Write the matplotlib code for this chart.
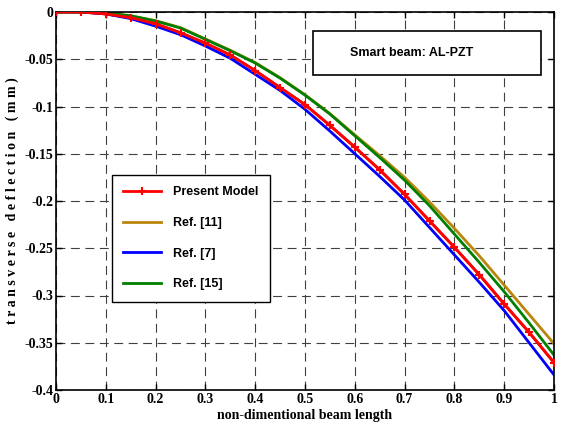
import matplotlib
matplotlib.use("Agg")
import matplotlib.pyplot as plt
from matplotlib.patches import Rectangle

x = [0, 0.05, 0.1, 0.15, 0.2, 0.25, 0.3, 0.35, 0.4, 0.45, 0.5,
     0.55, 0.6, 0.65, 0.7, 0.75, 0.8, 0.85, 0.9, 0.95, 1.0]
present = [0, 0, -0.002, -0.006, -0.0125, -0.022, -0.033, -0.0455, -0.062, -0.080, -0.098,
           -0.120, -0.143, -0.167, -0.193, -0.221, -0.249, -0.278, -0.309, -0.339, -0.371]
ref11 = [0, 0, -0.001, -0.004, -0.0092, -0.0165, -0.0285, -0.0405, -0.0535, -0.0695, -0.0875,
         -0.1075, -0.130, -0.152, -0.175, -0.201, -0.229, -0.258, -0.289, -0.320, -0.351]
ref7 = [0, 0, -0.002, -0.007, -0.015, -0.024, -0.036, -0.049, -0.066, -0.083, -0.103,
        -0.126, -0.150, -0.174, -0.199, -0.228, -0.257, -0.286, -0.316, -0.350, -0.384]
ref15 = [0, 0, -0.001, -0.004, -0.0095, -0.017, -0.029, -0.041, -0.054, -0.070, -0.088,
         -0.108, -0.131, -0.154, -0.178, -0.205, -0.235, -0.265, -0.296, -0.329, -0.363]

xticks = [0, 0.1, 0.2, 0.3, 0.4, 0.5, 0.6, 0.7, 0.8, 0.9, 1]
xticklabels = ["0", "0.1", "0.2", "0.3", "0.4", "0.5", "0.6", "0.7", "0.8", "0.9", "1"]
yticks = [0, -0.05, -0.1, -0.15, -0.2, -0.25, -0.3, -0.35, -0.4]
yticklabels = ["0", "-0.05", "-0.1", "-0.15", "-0.2", "-0.25", "-0.3", "-0.35", "-0.4"]

fig = plt.figure(figsize=(5.62, 4.37), dpi=100)
ax = fig.add_axes([56/562, 1-390/437, (554-56)/562, (390-12)/437])

ax.plot(x, present, color="#ff0000", lw=2.0, marker="+", ms=6, mew=1.5, label="Present Model")
ax.plot(x, ref11, color="#b8860b", lw=2.0, label="Ref. [11]")
ax.plot(x, ref7, color="#0000ff", lw=2.0, label="Ref. [7]")
ax.plot(x, ref15, color="#008000", lw=2.0, label="Ref. [15]")
# redraw present on top
ax.plot(x, present, color="#ff0000", lw=2.0, marker="+", ms=6, mew=1.5, zorder=3)

ax.set_xlim(0, 1)
ax.set_ylim(-0.4, 0)
ax.set_xticks(xticks)
ax.set_xticklabels(xticklabels)
ax.set_yticks(yticks)
ax.set_yticklabels(yticklabels)
ax.grid(True, color="0.25", linestyle=(0, (8, 5)), linewidth=0.8)
ax.tick_params(direction="in", top=True, right=True, length=4, width=1, pad=2)
for lab in ax.get_xticklabels() + ax.get_yticklabels():
    lab.set_family("Liberation Serif")
    lab.set_fontweight("bold")
    lab.set_fontsize(10)
for s in ax.spines.values():
    s.set_linewidth(1.2)

ax.set_xlabel("non-dimentional beam length", family="Liberation Serif",
              fontweight="bold", fontsize=10, labelpad=2)
ax.set_ylabel("t r a n s v e r s e   d e f l e c t i o n   ( m m )", family="Liberation Serif",
              fontweight="bold", fontsize=10, labelpad=4)

leg = ax.legend(loc="upper left", bbox_to_anchor=(0.112, 0.569), borderaxespad=0,
                fancybox=False, edgecolor="black", framealpha=1,
                prop={"family": "Liberation Sans", "weight": "bold", "size": 9},
                handlelength=3.0, labelspacing=1.5, borderpad=0.9, handletextpad=1.0)
leg.get_frame().set_linewidth(1.0)

ax.add_patch(Rectangle((0.516, 0.833), 0.458, 0.117, transform=ax.transAxes,
                       facecolor="white", edgecolor="black", lw=1.2, zorder=5))
ax.text(0.715, 0.892, "Smart beam: AL-PZT", transform=ax.transAxes,
        ha="center", va="center", family="Liberation Sans", fontweight="bold",
        fontsize=9, zorder=6)

fig.savefig("out.png", dpi=100)
